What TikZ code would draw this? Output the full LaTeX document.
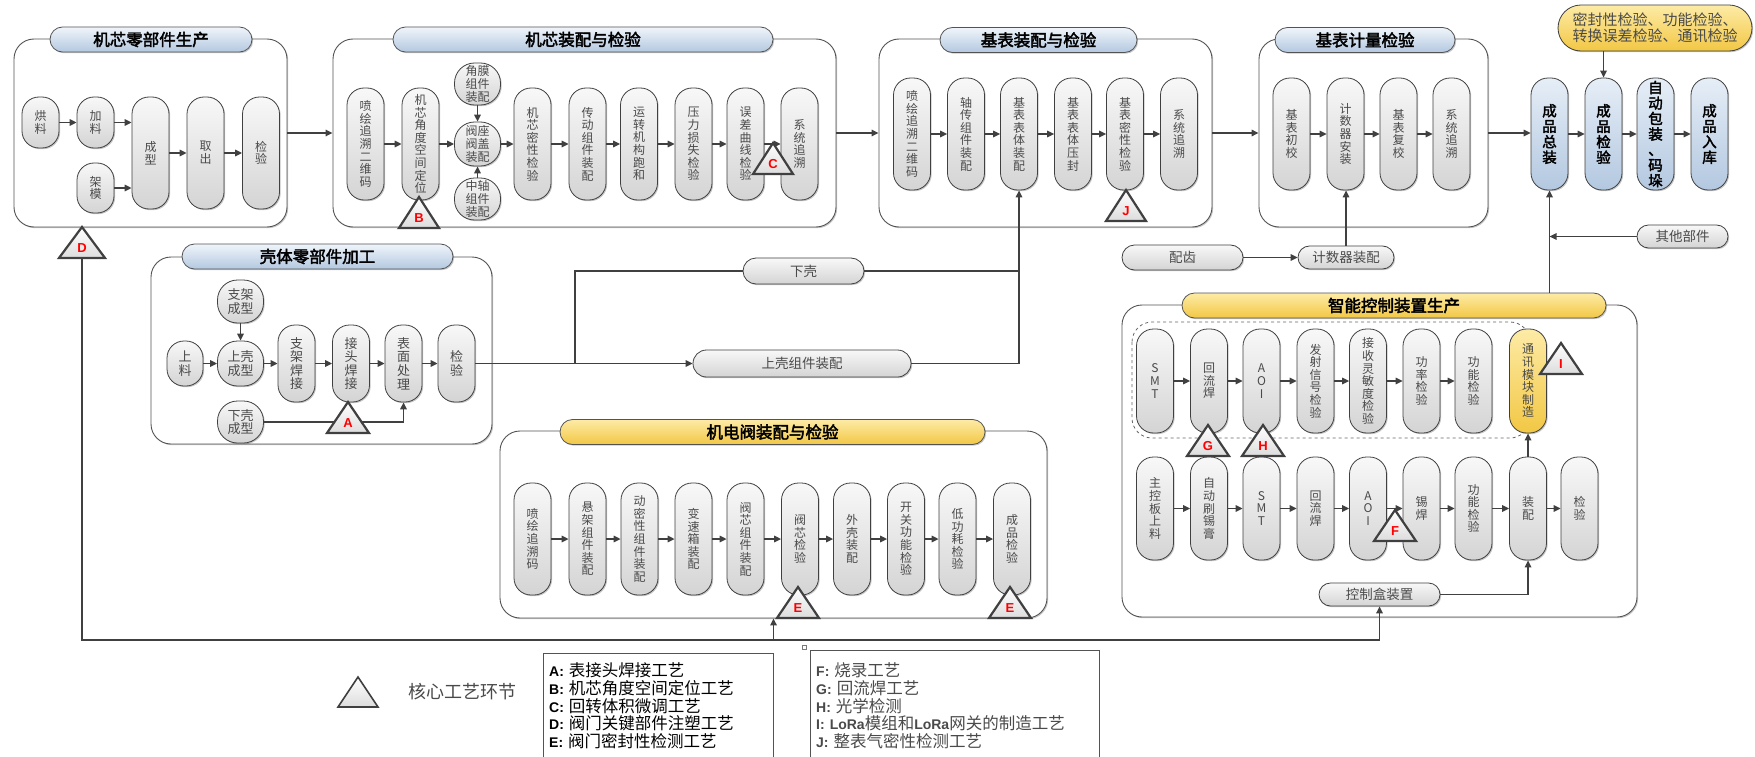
\documentclass[tikz,border=0pt]{standalone}
\usepackage{fontspec}
\setmainfont{Noto Sans CJK SC}
\newfontfamily\cjk{Noto Sans CJK SC}
\newfontfamily\cjkb{Noto Sans CJK SC}[FakeBold=2.5]
\newfontfamily\lat{Liberation Sans}
\usetikzlibrary{arrows.meta,shadows}

\definecolor{lineC}{HTML}{404040}
\definecolor{txtC}{HTML}{4A4A4A}
\definecolor{nTop}{HTML}{F8F8F8}
\definecolor{nBot}{HTML}{D4D4D4}
\definecolor{bTop}{HTML}{E6EEF7}
\definecolor{bBot}{HTML}{B3C8E0}
\definecolor{yTop}{HTML}{FDEBA6}
\definecolor{yBot}{HTML}{F2C744}
\definecolor{redC}{HTML}{FF0000}

\tikzset{
 shad/.style={drop shadow={shadow xshift=1.2pt,shadow yshift=-1.2pt,opacity=0.22,fill=black}},
 txtbase/.style={font=\cjk\fontsize{12}{12.6}\selectfont,text=txtC,align=center,inner sep=0pt},
 proc/.style={txtbase,draw=lineC,line width=0.8pt,rounded corners=17pt,top color=nTop,bottom color=nBot,minimum width=37pt,shad},
 tallp/.style={proc,minimum height=112pt},
 wide/.style={proc,minimum width=46pt,rounded corners=20pt},
 pill/.style={txtbase,draw=lineC,line width=0.8pt,top color=nTop,bottom color=nBot,font=\cjk\fontsize{13.5}{14}\selectfont,shad},
 fin/.style={proc,top color=bTop,bottom color=bBot,text=black,font=\cjkb\fontsize{14.5}{15.5}\selectfont,minimum height=112pt},
 panel/.style={draw=lineC!90,line width=0.9pt,rounded corners=20pt,fill=white,shad},
 ttl/.style={draw=lineC!90,line width=0.8pt,top color=bTop!60!white,bottom color=bBot,font=\cjkb\fontsize{16.5}{18}\selectfont,text=black,inner sep=0pt,minimum height=25pt,rounded corners=12.5pt,shad},
 ttly/.style={ttl,top color=yTop,bottom color=yBot},
 arr/.style={draw=lineC,line width=1.5pt,-{Triangle[length=7pt,width=6.5pt]}},
 ln/.style={draw=lineC,line width=1.5pt},
 tri/.style={draw=lineC,line width=2.2pt,line join=miter,top color=white,bottom color=nBot!80!white},
 trilab/.style={font=\lat\bfseries\fontsize{13}{13}\selectfont,text=redC,inner sep=0pt},
}

\newcommand{\mytri}[5]{%
 \draw[tri] (#2-#5,#3+31) -- (#2,#3) -- (#2+#5,#3+31) -- cycle;
 \node[trilab] (#1) at (#2,#3+21) {#4};
}
\newcommand{\lgL}[1]{{\lat\bfseries\fontsize{14}{14}\selectfont #1}\hspace{5pt}}
\newcommand{\lgC}[1]{{\cjk\fontsize{16.5}{17}\selectfont #1}}

\begin{document}
\begin{tikzpicture}[x=1pt,y=-1pt]
\useasboundingbox (0,0) rectangle (1755,757);
\fill[white] (0,0) rectangle (1755,757);

% ---------- panels ----------
\node[panel,minimum width=273pt,minimum height=188pt] (p1) at (150.5,133) {};
\node[panel,minimum width=503pt,minimum height=188pt] (p2) at (584.5,133) {};
\node[panel,minimum width=333pt,minimum height=188pt] (p3) at (1045.5,133) {};
\node[panel,minimum width=229pt,minimum height=188pt] (p4) at (1373.5,133) {};
\node[panel,minimum width=341pt,minimum height=187pt] (p5) at (321.5,350.5) {};
\node[panel,minimum width=547pt,minimum height=187pt] (p6) at (773.5,524.5) {};
\node[panel,minimum width=515pt,minimum height=312pt] (p7) at (1379.5,461) {};

% ---------- titles ----------
\node[ttl,minimum width=202pt] (t1) at (151,39.5) {机芯零部件生产};
\node[ttl,minimum width=380pt] (t2) at (583,39.5) {机芯装配与检验};
\node[ttl,minimum width=197pt] (t3) at (1038.5,40) {基表装配与检验};
\node[ttl,minimum width=180pt] (t4) at (1365,40) {基表计量检验};
\node[ttl,minimum width=271pt] (t5) at (317.5,256.5) {壳体零部件加工};
\node[ttly,minimum width=425pt] (t6) at (772.5,432) {机电阀装配与检验};
\node[ttly,minimum width=424pt] (t7) at (1394,305.5) {智能控制装置生产};

\draw[lineC!80,dashed,line width=0.8pt,rounded corners=20pt] (1132,322) rectangle (1530,438);

% ---------- panel 1 ----------
\node[proc,minimum height=51pt] (n11) at (40.5,122.5) {烘\\料};
\node[proc,minimum height=51pt] (n12) at (95.5,122.5) {加\\料};
\node[proc,minimum height=50pt] (n13) at (95.5,188) {架\\模};
\node[tallp] (n14) at (150.5,153) {成\\型};
\node[tallp] (n15) at (205.5,153) {取\\出};
\node[tallp] (n16) at (261,153) {检\\验};
\draw[arr] (n11) -- (n12);
\draw[arr] (n12.east) -- (n12.east -| n14.west);
\draw[arr] (n13.east) -- (n13.east -| n14.west);
\draw[arr] (n14) -- (n15);
\draw[arr] (n15) -- (n16);

% ---------- panel 2 ----------
\node[tallp] (a1) at (365.5,144) {喷\\绘\\追\\溯\\二\\维\\码};
\node[tallp] (a2) at (420.5,144) {机\\芯\\角\\度\\空\\间\\定\\位};
\node[wide,minimum height=42pt] (a3u) at (477.5,84) {角膜\\组件\\装配};
\node[wide,minimum height=44pt] (a3) at (477.5,144) {阀座\\阀盖\\装配};
\node[wide,minimum height=42pt] (a3d) at (477.5,199) {中轴\\组件\\装配};
\node[tallp] (a4) at (532.5,144) {机\\芯\\密\\性\\检\\验};
\node[tallp] (a5) at (587.5,144) {传\\动\\组\\件\\装\\配};
\node[tallp] (a6) at (639,144) {运\\转\\机\\构\\跑\\和};
\node[tallp] (a7) at (693.5,144) {压\\力\\损\\失\\检\\验};
\node[tallp] (a8) at (745.5,144) {误\\差\\曲\\线\\检\\验};
\node[tallp] (a9) at (799.5,144) {系\\统\\追\\溯};
\draw[arr] (a1) -- (a2);
\draw[arr] (a2) -- (a3);
\draw[arr] (a3) -- (a4);
\draw[arr] (a4) -- (a5);
\draw[arr] (a5) -- (a6);
\draw[arr] (a6) -- (a7);
\draw[arr] (a7) -- (a8);
\draw[arr] (a8) -- (a9);
\draw[arr] (a3u) -- (a3);
\draw[arr] (a3d) -- (a3);

% ---------- panel 3 ----------
\node[tallp] (b1) at (912,134) {喷\\绘\\追\\溯\\二\\维\\码};
\node[tallp] (b2) at (966,134) {轴\\传\\组\\件\\装\\配};
\node[tallp] (b3) at (1019,134) {基\\表\\表\\体\\装\\配};
\node[tallp] (b4) at (1073,134) {基\\表\\表\\体\\压\\封};
\node[tallp] (b5) at (1125,134) {基\\表\\密\\性\\检\\验};
\node[tallp] (b6) at (1179,134) {系\\统\\追\\溯};
\draw[arr] (b1) -- (b2);
\draw[arr] (b2) -- (b3);
\draw[arr] (b3) -- (b4);
\draw[arr] (b4) -- (b5);
\draw[arr] (b5) -- (b6);

% ---------- panel 4 ----------
\node[tallp] (c1) at (1291.5,134) {基\\表\\初\\校};
\node[tallp] (c2) at (1345.5,134) {计\\数\\器\\安\\装};
\node[tallp] (c3) at (1398.5,134) {基\\表\\复\\校};
\node[tallp] (c4) at (1451.5,134) {系\\统\\追\\溯};
\draw[arr] (c1) -- (c2);
\draw[arr] (c2) -- (c3);
\draw[arr] (c3) -- (c4);

% ---------- final products ----------
\node[fin] (cz) at (1549.5,134) {成\\品\\总\\装};
\node[fin] (cj) at (1603.5,134) {成\\品\\检\\验};
\node[fin] (bz) at (1655.5,134) {自\\动\\包\\装\\、\\码\\垛};
\node[fin] (rk) at (1709.5,134) {成\\品\\入\\库};
\draw[arr] (cz) -- (cj);
\draw[arr] (cj) -- (bz);
\draw[arr] (bz) -- (rk);
\node[pill,top color=yTop,bottom color=yBot,minimum width=194pt,minimum height=46pt,rounded corners=23pt,font=\cjk\fontsize{15}{16}\selectfont] (yp) at (1655,28) {密封性检验、功能检验、\\转换误差检验、通讯检验};
\draw[arr] (yp.south -| cj.north) -- (cj.north);
\node[pill,minimum width=91pt,minimum height=23pt,rounded corners=11.5pt] (qt) at (1682.5,236.5) {其他部件};
\draw[arr] (t7.north -| cz.south) -- (cz.south);
\draw[arr] (qt.west) -- (qt.west -| cz.south);

% ---------- panel-level flow ----------
\draw[arr] (p1) -- (p2);
\draw[arr] (p2) -- (p3);
\draw[arr] (p3) -- (p4);
\draw[arr] (p4.east) -- (p4.east -| cz.west);

% ---------- panel 5 ----------
\tikzset{p5f/.style={font=\cjk\fontsize{13}{13.6}\selectfont}}
\node[proc,p5f,minimum width=36pt,minimum height=45pt] (s1) at (185,363.5) {上\\料};
\node[wide,p5f,minimum height=43pt] (s2) at (240.5,301.5) {支架\\成型};
\node[wide,p5f,minimum height=45pt] (s3) at (240.5,363.5) {上壳\\成型};
\node[wide,p5f,minimum height=42pt] (s4) at (240.5,422) {下壳\\成型};
\node[proc,p5f,minimum height=77pt] (s5) at (296.5,363.5) {支\\架\\焊\\接};
\node[proc,p5f,minimum height=77pt] (s6) at (351,363.5) {接\\头\\焊\\接};
\node[proc,p5f,minimum height=77pt] (s7) at (403.5,363.5) {表\\面\\处\\理};
\node[proc,p5f,minimum height=77pt] (s8) at (456.5,363.5) {检\\验};
\draw[arr] (s1) -- (s3);
\draw[arr] (s2) -- (s3);
\draw[arr] (s3) -- (s5);
\draw[arr] (s5) -- (s6);
\draw[arr] (s6) -- (s7);
\draw[arr] (s7) -- (s8);
\draw[arr] (s4.east) -| (s7.south);

\node[pill,minimum width=121pt,minimum height=26pt,rounded corners=13pt] (xk2) at (803.5,271) {下壳};
\node[pill,minimum width=218pt,minimum height=27pt,rounded corners=13.5pt] (sk2) at (802,363.5) {上壳组件装配};
\coordinate (j1) at (575,363.5);
\draw[ln] (s8.east) -- (j1);
\draw[arr] (j1) -- (sk2.west);
\draw[ln] (j1) |- (xk2.west);
\draw[ln] (xk2.east) -- (xk2.east -| b3.south);
\draw[arr] (sk2.east) -| (b3.south);

\node[pill,minimum width=121pt,minimum height=25pt,rounded corners=12.5pt] (pc) at (1182.5,257.5) {配齿};
\node[pill,minimum width=96pt,minimum height=23pt,rounded corners=11.5pt] (js) at (1346,257.5) {计数器装配};
\draw[arr] (pc) -- (js);
\draw[arr] (js.north) -- (js.north |- c2.south);

% ---------- panel 6 ----------
\node[tallp] (d1) at (532.5,539) {喷\\绘\\追\\溯\\码};
\node[tallp] (d2) at (587.5,539) {悬\\架\\组\\件\\装\\配};
\node[tallp] (d3) at (639.5,539) {动\\密\\性\\组\\件\\装\\配};
\node[tallp] (d4) at (693.5,539) {变\\速\\箱\\装\\配};
\node[tallp] (d5) at (745.5,539) {阀\\芯\\组\\件\\装\\配};
\node[tallp] (d6) at (800,539) {阀\\芯\\检\\验};
\node[tallp] (d7) at (852,539) {外\\壳\\装\\配};
\node[tallp] (d8) at (906,539) {开\\关\\功\\能\\检\\验};
\node[tallp] (d9) at (957.5,539) {低\\功\\耗\\检\\验};
\node[tallp] (d10) at (1012,539) {成\\品\\检\\验};
\draw[arr] (d1) -- (d2);
\draw[arr] (d2) -- (d3);
\draw[arr] (d3) -- (d4);
\draw[arr] (d4) -- (d5);
\draw[arr] (d5) -- (d6);
\draw[arr] (d6) -- (d7);
\draw[arr] (d7) -- (d8);
\draw[arr] (d8) -- (d9);
\draw[arr] (d9) -- (d10);

% ---------- panel 7 ----------
\tikzset{r1/.style={proc,minimum height=104pt},r2/.style={proc,minimum height=103pt}}
\node[r1] (e1) at (1155,381) {S\\M\\T};
\node[r1] (e2) at (1209,381) {回\\流\\焊};
\node[r1] (e3) at (1261.5,381) {A\\O\\I};
\node[r1] (e4) at (1315.5,381) {发\\射\\信\\号\\检\\验};
\node[r1] (e5) at (1368,381) {接\\收\\灵\\敏\\度\\检\\验};
\node[r1] (e6) at (1421.5,381) {功\\率\\检\\验};
\node[r1] (e7) at (1473.5,381) {功\\能\\检\\验};
\node[r1,top color=yTop,bottom color=yBot] (tx) at (1528,381) {通\\讯\\模\\块\\制\\造};
\draw[arr] (e1) -- (e2);
\draw[arr] (e2) -- (e3);
\draw[arr] (e3) -- (e4);
\draw[arr] (e4) -- (e5);
\draw[arr] (e5) -- (e6);
\draw[arr] (e6) -- (e7);

\node[r2] (f1) at (1155,508.5) {主\\控\\板\\上\\料};
\node[r2] (f2) at (1209,508.5) {自\\动\\刷\\锡\\膏};
\node[r2] (f3) at (1261.5,508.5) {S\\M\\T};
\node[r2] (f4) at (1315.5,508.5) {回\\流\\焊};
\node[r2] (f5) at (1368,508.5) {A\\O\\I};
\node[r2] (f6) at (1421.5,508.5) {锡\\焊};
\node[r2] (f7) at (1473.5,508.5) {功\\能\\检\\验};
\node[r2] (f8) at (1528,508.5) {装\\配};
\node[r2] (f9) at (1579.5,508.5) {检\\验};
\draw[arr] (f1) -- (f2);
\draw[arr] (f2) -- (f3);
\draw[arr] (f3) -- (f4);
\draw[arr] (f4) -- (f5);
\draw[arr] (f5) -- (f6);
\draw[arr] (f6) -- (f7);
\draw[arr] (f7) -- (f8);
\draw[arr] (f8) -- (f9);
\draw[arr] (f8) -- (tx);

\node[pill,minimum width=121pt,minimum height=23pt,rounded corners=11.5pt] (kh) at (1379.5,594.5) {控制盒装置};
\draw[arr] (kh.east) -| (f8.south);

% ---------- bottom rail ----------
\coordinate (triDb) at (82,258);
\coordinate (rail) at (0,640);
\draw[arr] (triDb) |- (rail -| kh.south) -- (kh.south);
\draw[arr] (rail -| p6.south) -- (p6.south);

% ---------- key-process triangles ----------
\mytri{tD}{82}{227}{D}{23}
\mytri{tB}{419}{197}{B}{20}
\mytri{tC}{773}{143}{C}{20}
\mytri{tJ}{1126}{190}{J}{20}
\mytri{tA}{348}{402}{A}{21}
\mytri{tE1}{798}{587}{E}{21}
\mytri{tE2}{1010}{587}{E}{21}
\mytri{tI}{1561}{343}{I}{21}
\mytri{tG}{1208}{425}{G}{21}
\mytri{tH}{1263}{425}{H}{21}
\mytri{tF}{1395}{510}{F}{21}

% ---------- legend ----------
\draw[tri,line width=1.6pt] (338,707) -- (358,677) -- (378,707) -- cycle;
\node[txtbase,font=\cjk\fontsize{18}{18}\selectfont] (lgt) at (462,692) {核心工艺环节};
\draw[lineC!90,line width=0.8pt] (543,760) -- (543,653) -- (773,653) -- (773,760);
\draw[lineC!90,line width=0.8pt] (810,760) -- (810,650) -- (1099,650) -- (1099,760);
\draw[lineC!70,line width=0.5pt] (802,645) rectangle (806,649);

\node[anchor=west,inner sep=0pt] (la) at (549,670) {\lgL{A:}\lgC{表接头焊接工艺}};
\node[anchor=west,inner sep=0pt] (lb) at (549,688) {\lgL{B:}\lgC{机芯角度空间定位工艺}};
\node[anchor=west,inner sep=0pt] (lc) at (549,706) {\lgL{C:}\lgC{回转体积微调工艺}};
\node[anchor=west,inner sep=0pt] (ld) at (549,723) {\lgL{D:}\lgC{阀门关键部件注塑工艺}};
\node[anchor=west,inner sep=0pt] (le) at (549,741) {\lgL{E:}\lgC{阀门密封性检测工艺}};

\node[anchor=west,inner sep=0pt,text=txtC] (lf) at (816,670) {\lgL{F:}\lgC{烧录工艺}};
\node[anchor=west,inner sep=0pt,text=txtC] (lg) at (816,688) {\lgL{G:}\lgC{回流焊工艺}};
\node[anchor=west,inner sep=0pt,text=txtC] (lh) at (816,706) {\lgL{H:}\lgC{光学检测}};
\node[anchor=west,inner sep=0pt,text=txtC] (li) at (816,723) {\lgL{I:}{\lat\bfseries\fontsize{14}{14}\selectfont LoRa}\lgC{模组和}{\lat\bfseries\fontsize{14}{14}\selectfont LoRa}\lgC{网关的制造工艺}};
\node[anchor=west,inner sep=0pt,text=txtC] (lj) at (816,741) {\lgL{J:}\lgC{整表气密性检测工艺}};
\end{tikzpicture}
\end{document}
